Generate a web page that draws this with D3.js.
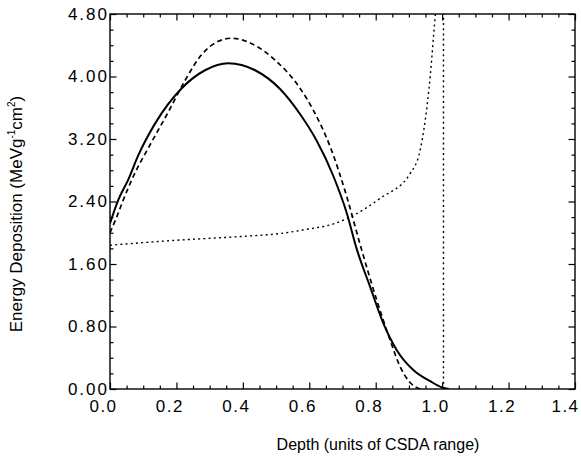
<!DOCTYPE html>
<html>
<head>
<meta charset="utf-8">
<script src="https://cdn.jsdelivr.net/npm/d3@7"></script>
<style>
  body { margin: 0; background: #fff; }
  svg { display: block; }
  text { font-family: "Liberation Sans", Arial, Helvetica, sans-serif; fill: #000; }
</style>
</head>
<body>
<div id="chart"></div>
<script>
// tick labels
const xTickValues = [0.0, 0.2, 0.4, 0.6, 0.8, 1.0, 1.2, 1.4];
const yTickValues = [0.00, 0.80, 1.60, 2.40, 3.20, 4.00, 4.80];

// solid curve
const solidDepth = [0.0, 0.025, 0.055, 0.085, 0.136, 0.216, 0.286, 0.356, 0.437, 0.512, 0.572, 0.622, 0.673, 0.713, 0.743, 0.783, 0.823, 0.863, 0.914, 0.964, 1.0, 1.02];
const solidDose  = [2.12, 2.42, 2.68, 2.99, 3.40, 3.85, 4.08, 4.17, 4.08, 3.84, 3.52, 3.18, 2.72, 2.25, 1.79, 1.31, 0.84, 0.50, 0.24, 0.10, 0.02, 0.0];

// long dashed curve
const dashDepth = [0.0, 0.02, 0.04, 0.07, 0.12, 0.176, 0.226, 0.276, 0.326, 0.366, 0.427, 0.497, 0.572, 0.612, 0.663, 0.713, 0.753, 0.803, 0.843, 0.873, 0.904, 0.934];
const dashDose  = [2.0, 2.2, 2.42, 2.72, 3.12, 3.55, 3.95, 4.28, 4.45, 4.49, 4.42, 4.21, 3.85, 3.57, 3.10, 2.46, 1.85, 1.14, 0.63, 0.29, 0.08, 0.0];

// dotted curve
const dotDepth = [0.0, 0.186, 0.386, 0.512, 0.587, 0.678, 0.713, 0.813, 0.904, 0.934, 0.949, 0.964, 0.974, 0.98];
const dotDose  = [1.84, 1.90, 1.95, 1.99, 2.04, 2.12, 2.18, 2.44, 2.76, 3.06, 3.44, 4.0, 4.51, 4.82];

// vertical dotted line at end of range
const rangeDepth = [1.004, 1.004];
const rangeDose  = [0.0, 4.8];

const margin = { top: 14, right: 6, bottom: 68, left: 110 },
      width = 465,
      height = 375;

const svg = d3.select("#chart")
  .append("svg")
  .attr("width", 581)
  .attr("height", 457);

const g = svg.append("g")
  .attr("transform", `translate(${margin.left}, ${margin.top})`);

const xScale = d3.scaleLinear().domain([0, 1.4]).range([0, width]);
const yScale = d3.scaleLinear().domain([0, 4.8]).range([height, 0]);

g.append("clipPath").attr("id", "plot-clip")
  .append("rect").attr("x", 0).attr("y", 0).attr("width", width).attr("height", height);

const xMinor = d3.range(0, 1.4001, 0.05).filter(v => Math.abs(v * 5 - Math.round(v * 5)) > 1e-6);
const yMinor = d3.range(0, 4.8001, 0.2).filter(v => Math.abs(v / 0.8 - Math.round(v / 0.8)) > 1e-6);

function styleAxis(sel) {
  sel.select(".domain").remove();
  sel.selectAll(".tick line").attr("stroke", "#000").attr("stroke-width", 1.2);
}

// bottom
g.append("g").attr("transform", `translate(0,${height})`)
  .call(d3.axisBottom(xScale).tickValues(xMinor).tickSize(-3.5).tickFormat(""))
  .call(styleAxis);
g.append("g").attr("transform", `translate(0,${height})`)
  .call(d3.axisBottom(xScale).tickValues(xTickValues).tickSize(-6.5).tickPadding(11).tickFormat(d3.format(".1f")))
  .call(styleAxis)
  .call(a => a.selectAll("text")
    .attr("font-size", "17px")
    .attr("letter-spacing", "1.5px")
    .attr("dx", (d, i) => i === xTickValues.length - 1 ? -10 : -7)
    .attr("font-family", null));

// top
g.append("g")
  .call(d3.axisTop(xScale).tickValues(xMinor).tickSize(-3.5).tickFormat(""))
  .call(styleAxis);
g.append("g")
  .call(d3.axisTop(xScale).tickValues(xTickValues).tickSize(-6.5).tickFormat(""))
  .call(styleAxis);

// left
g.append("g")
  .call(d3.axisLeft(yScale).tickValues(yMinor).tickSize(-3.5).tickFormat(""))
  .call(styleAxis);
g.append("g")
  .call(d3.axisLeft(yScale).tickValues(yTickValues).tickSize(-6.5).tickPadding(1).tickFormat(d3.format(".2f")))
  .call(styleAxis)
  .call(a => a.selectAll("text")
    .attr("font-size", "17px")
    .attr("letter-spacing", "2px")
    .attr("font-family", null));

// right
g.append("g").attr("transform", `translate(${width},0)`)
  .call(d3.axisRight(yScale).tickValues(yMinor).tickSize(-3.5).tickFormat(""))
  .call(styleAxis);
g.append("g").attr("transform", `translate(${width},0)`)
  .call(d3.axisRight(yScale).tickValues(yTickValues).tickSize(-6.5).tickFormat(""))
  .call(styleAxis);

// frame
g.append("rect")
  .attr("x", 0).attr("y", 0)
  .attr("width", width).attr("height", height)
  .attr("fill", "none")
  .attr("stroke", "#000")
  .attr("stroke-width", 1.4);

const lineGenerator = d3.line()
  .x(d => xScale(d[0]))
  .y(d => yScale(d[1]))
  .curve(d3.curveMonotoneX);

const series = [
  { x: dotDepth, y: dotDose, width: 1.4, dash: "2,3.2" },
  { x: rangeDepth, y: rangeDose, width: 1.4, dash: "2,3.2" },
  { x: dashDepth, y: dashDose, width: 1.7, dash: "5,3.5" },
  { x: solidDepth, y: solidDose, width: 2, dash: null }
];

series.forEach(s => {
  g.append("path")
    .attr("clip-path", "url(#plot-clip)")
    .attr("fill", "none")
    .attr("stroke", "#000")
    .attr("stroke-width", s.width)
    .attr("stroke-dasharray", s.dash)
    .attr("d", lineGenerator(s.x.map((v, i) => [v, s.y[i]])));
});

// axis titles
svg.append("text")
  .attr("x", 378)
  .attr("y", 450)
  .attr("text-anchor", "middle")
  .attr("font-size", "16px")
  .text("Depth (units of CSDA range)");

const yTitle = svg.append("text")
  .attr("transform", "translate(22, 214) rotate(-90)")
  .attr("text-anchor", "middle")
  .attr("font-size", "17px");
yTitle.append("tspan").text("Energy Deposition (MeVg");
yTitle.append("tspan").attr("font-size", "10px").attr("dy", -7).text("-1");
yTitle.append("tspan").attr("dy", 7).text("cm");
yTitle.append("tspan").attr("font-size", "10px").attr("dy", -7).text("2");
yTitle.append("tspan").attr("dy", 7).text(")");
</script>
</body>
</html>
